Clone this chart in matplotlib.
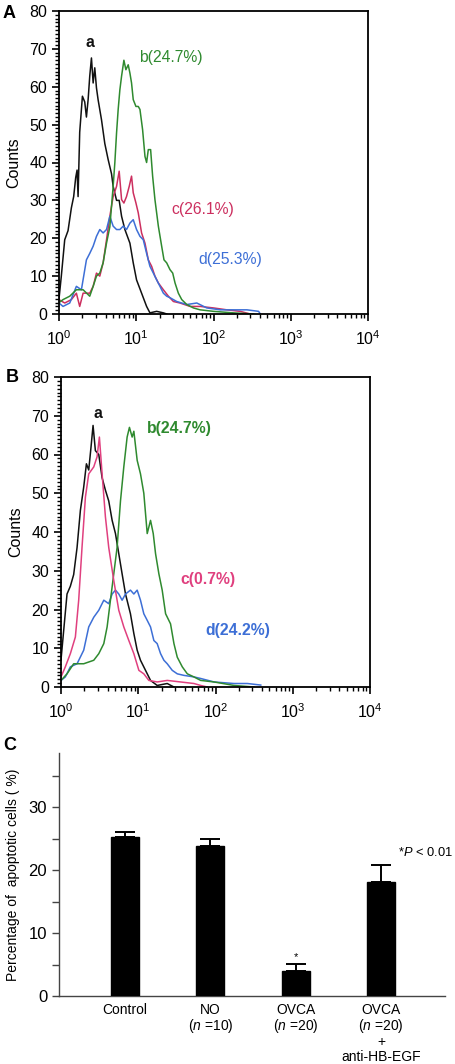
import numpy as np
import matplotlib
matplotlib.use("Agg")
import matplotlib.pyplot as plt
from matplotlib.ticker import MultipleLocator, LogLocator, NullFormatter, FixedLocator

plt.rcParams['font.family'] = ['Liberation Sans', 'DejaVu Sans']
plt.rcParams['mathtext.fontset'] = 'custom'
plt.rcParams['mathtext.rm'] = 'Liberation Sans'
plt.rcParams['mathtext.it'] = 'Liberation Sans:italic'
plt.rcParams['mathtext.bf'] = 'Liberation Sans:bold'

# ---------------- Panel A data (log10 fluorescence, counts) ----------------
a_black_log = [0.000, 0.030, 0.074, 0.117, 0.160, 0.190, 0.216, 0.234, 0.247, 0.268, 0.303, 0.333,
               0.355, 0.377, 0.398, 0.420, 0.442, 0.463, 0.485, 0.506, 0.550, 0.593, 0.636, 0.680,
               0.701, 0.745, 0.779, 0.810, 0.853, 0.918, 0.961, 1.004, 1.069, 1.134, 1.177, 1.264,
               1.351, 1.394]
a_black_cnt = [4, 10, 19.6, 22, 28, 31, 36, 38, 31, 48, 57.5, 56, 52, 56.6, 62.8, 67.6, 61, 65, 59.7,
               56.6, 51.3, 45, 40.8, 37, 33.7, 30, 30, 25.8, 22.3, 18.7, 13.5, 9, 5.5, 2, 0.3, 0.7,
               0.3, 0]

a_green_log = [0.000, 0.052, 0.139, 0.225, 0.312, 0.398, 0.442, 0.485, 0.528, 0.571, 0.615, 0.658,
               0.701, 0.723, 0.745, 0.766, 0.788, 0.810, 0.840, 0.866, 0.896, 0.918, 0.939, 0.961,
               0.996, 1.026, 1.048, 1.082, 1.113, 1.134, 1.156, 1.186, 1.212, 1.242, 1.286, 1.329,
               1.359, 1.394, 1.437, 1.472, 1.502, 1.545, 1.589, 1.654, 1.740, 1.827, 2.000, 2.260,
               2.519]
a_green_cnt = [3, 3.8, 4.7, 6.4, 6.4, 4.7, 7.3, 10, 10.8, 13.5, 18.7, 23, 33.7, 40, 47.8, 54, 59.2,
               62.8, 67, 64.5, 65.8, 63.6, 61, 56.6, 54.8, 54.8, 54, 48.7, 41.6, 40, 43.4, 43.4,
               36.4, 30.2, 23.2, 17.9, 14.3, 13.5, 11.7, 10.8, 8.2, 5.5, 3.8, 2.5, 1.6, 1.1, 0.7,
               0.3, 0]

a_red_log = [0.000, 0.074, 0.160, 0.225, 0.268, 0.312, 0.398, 0.442, 0.485, 0.528, 0.571, 0.615,
             0.658, 0.701, 0.745, 0.779, 0.810, 0.840, 0.874, 0.909, 0.939, 0.961, 0.996, 1.026,
             1.069, 1.113, 1.156, 1.199, 1.242, 1.286, 1.351, 1.416, 1.481, 1.567, 1.697, 1.827,
             2.000, 2.173, 2.346, 2.476]
a_red_cnt = [3.8, 2.9, 3.8, 5.5, 2, 5.5, 5.5, 7.3, 10.8, 10, 13.5, 19.6, 25.8, 31, 33.7, 37.7, 30.2,
             29.3, 31, 33.7, 36.4, 32, 29.3, 26.7, 21.4, 18.7, 14.3, 12.6, 10, 8.2, 6.4, 4.7, 3.3,
             2.9, 2, 2, 1.6, 1.1, 0.7, 0]

a_blue_log = [0.000, 0.052, 0.139, 0.225, 0.290, 0.355, 0.398, 0.442, 0.485, 0.528, 0.571, 0.615,
              0.658, 0.701, 0.745, 0.788, 0.831, 0.874, 0.918, 0.961, 1.004, 1.048, 1.091, 1.134,
              1.177, 1.221, 1.264, 1.307, 1.351, 1.394, 1.437, 1.524, 1.654, 1.784, 1.913, 2.087,
              2.260, 2.433, 2.584, 2.606]
a_blue_cnt = [2.9, 2, 2.9, 7.3, 6.4, 14.3, 16, 17.9, 20.5, 22.3, 21.4, 22.3, 25.8, 23.2, 22.3, 22.3,
              23.2, 22.3, 24, 24.9, 22.3, 20.5, 19.6, 16, 12.6, 10.8, 9, 7.3, 5.5, 4.7, 4.3, 3.3,
              2.5, 2.9, 1.6, 1.1, 1.1, 1.1, 0.7, 0]

# ---------------- Panel B data ----------------
b_black_log = [0.000, 0.078, 0.121, 0.164, 0.208, 0.251, 0.294, 0.329, 0.359, 0.389, 0.415, 0.445,
               0.489, 0.532, 0.575, 0.618, 0.662, 0.705, 0.748, 0.791, 0.835, 0.899, 0.943, 0.986,
               1.029, 1.094, 1.159, 1.245, 1.375, 1.462]
b_black_cnt = [7, 24, 26, 29, 36, 45.6, 51.6, 57.6, 56, 62, 67.5, 61, 60, 54, 50.8, 48, 43, 39.6,
               34.4, 29.2, 24, 18.9, 13.8, 9.5, 6.9, 4.3, 1.7, 0.4, 0.9, 0]

b_red_log = [0.000, 0.056, 0.121, 0.186, 0.229, 0.272, 0.316, 0.359, 0.424, 0.467, 0.497, 0.532,
             0.575, 0.618, 0.683, 0.748, 0.813, 0.878, 0.943, 1.008, 1.072, 1.137, 1.245, 1.375,
             1.548, 1.721, 1.808, 1.894]
b_red_cnt = [2.6, 5.2, 8.6, 12.9, 22.4, 36, 49, 55, 56.8, 59.4, 64.5, 55, 43.9, 36, 27.5, 19.8,
             15.5, 12, 8.6, 4.3, 3.4, 1.7, 1.3, 1.7, 1.3, 0.9, 0.4, 0]

b_green_log = [0.000, 0.078, 0.164, 0.294, 0.424, 0.489, 0.554, 0.597, 0.640, 0.683, 0.726, 0.770,
               0.813, 0.856, 0.886, 0.921, 0.943, 0.986, 1.029, 1.072, 1.116, 1.159, 1.194, 1.224,
               1.267, 1.310, 1.354, 1.418, 1.462, 1.505, 1.570, 1.635, 1.721, 1.808, 1.981, 2.240,
               2.499]
b_green_cnt = [1.7, 3.4, 6, 6, 6.9, 8.6, 11.2, 15.5, 22.4, 29.2, 36, 48, 56.8, 64.5, 67, 64.5, 66,
               58.5, 55, 50, 39.6, 43, 39.6, 34.4, 29.2, 25, 18.9, 16.3, 11.2, 7.7, 5.2, 3.4, 2.6,
               1.7, 1.3, 0.4, 0]

b_blue_log = [0.000, 0.056, 0.121, 0.208, 0.294, 0.359, 0.424, 0.489, 0.554, 0.618, 0.662, 0.705,
              0.748, 0.791, 0.835, 0.899, 0.943, 0.986, 1.029, 1.072, 1.116, 1.159, 1.202, 1.245,
              1.289, 1.332, 1.375, 1.440, 1.505, 1.591, 1.721, 1.808, 1.981, 2.240, 2.413, 2.586]
b_blue_cnt = [1.7, 2.6, 5.2, 6, 9.5, 15.5, 18, 19.8, 22.4, 21.5, 24, 25, 24, 22.4, 24, 25, 24, 25,
              22.4, 18.9, 17.2, 15.5, 12, 11.2, 8.6, 6.9, 6, 4.3, 3.4, 3, 2.6, 2.2, 1.3, 0.9, 0.9,
              0.5]

labels_A = ['a', 'b(24.7%)', 'c(26.1%)', 'd(25.3%)']
labels_B = ['a', 'b(24.7%)', 'c(0.7%)', 'd(24.2%)']

# ---------------- Panel C data ----------------
groups = ['Control', 'NO\n($\\it{n}$ =10)', 'OVCA\n($\\it{n}$ =20)',
          'OVCA\n($\\it{n}$ =20)\n+\nanti-HB-EGF']
pct = [25.2, 23.9, 4.0, 18.1]
err = [0.9, 1.1, 1.1, 2.7]

BLACK = '#111111'
GREEN = '#2f8a2f'
RED_A = '#cc2f5f'
RED_B = '#e0407f'
BLUE = '#3d6fd6'

fig = plt.figure(figsize=(4.56, 10.64), dpi=100)
W, H = 456.0, 1064.0


def axes_px(x0, x1, ytop, ybot):
    return fig.add_axes([x0 / W, 1 - ybot / H, (x1 - x0) / W, (ybot - ytop) / H])


def hist_panel(ax, curves, labels, label_pos, red, bold):
    for (lx, cnt, col) in curves:
        ax.plot(10 ** np.array(lx), cnt, color=col, lw=1.1)
    ax.set_xscale('log')
    ax.set_xlim(1, 1e4)
    ax.set_ylim(0, 80)
    ax.yaxis.set_major_locator(MultipleLocator(10))
    ax.yaxis.set_minor_locator(MultipleLocator(1))
    ax.xaxis.set_major_locator(LogLocator(base=10, numticks=10))
    ax.xaxis.set_minor_locator(LogLocator(base=10, subs=np.arange(2, 10), numticks=20))
    ax.xaxis.set_minor_formatter(NullFormatter())
    ax.tick_params(axis='both', which='major', direction='out', length=5, width=1.2,
                   labelsize=11.5, colors='black')
    ax.tick_params(axis='both', which='minor', direction='out', length=3, width=1.0)
    ax.tick_params(axis='x', pad=6)
    for s in ax.spines.values():
        s.set_linewidth(1.3)
    ax.set_ylabel('Counts', fontsize=11.5, labelpad=6)
    cols = [BLACK, GREEN, red, BLUE]
    for i, (t, (px, py)) in enumerate(zip(labels, label_pos)):
        fw = 'bold' if (bold or i == 0) else 'normal'
        ax.text(10 ** px, py, t, color=cols[i], fontsize=11.3, fontweight=fw,
                ha='center' if i == 0 else 'left', va='center')


# Panel A
axA = axes_px(59, 368, 11, 314)
hist_panel(axA,
           [(a_black_log, a_black_cnt, BLACK), (a_red_log, a_red_cnt, RED_A),
            (a_blue_log, a_blue_cnt, BLUE), (a_green_log, a_green_cnt, GREEN)],
           labels_A, [(0.40, 71.6), (1.03, 67.6), (1.46, 27.7), (1.80, 14.3)], RED_A, False)
fig.text(3 / W, 1 - 14 / H, 'A', fontsize=13, fontweight='bold', va='center', ha='left')

# Panel B
axB = axes_px(61, 370, 377, 687)
hist_panel(axB,
           [(b_black_log, b_black_cnt, BLACK), (b_blue_log, b_blue_cnt, BLUE),
            (b_green_log, b_green_cnt, GREEN), (b_red_log, b_red_cnt, RED_B)],
           labels_B, [(0.48, 70.5), (1.116, 66.7), (1.548, 27.7), (1.872, 14.6)], RED_B, True)
fig.text(6 / W, 1 - 377 / H, 'B', fontsize=13, fontweight='bold', va='center', ha='left')

# Panel C
axC = axes_px(59, 445, 753, 996)
xpos = np.arange(len(groups))
axC.bar(xpos, pct, width=0.33, color='black', edgecolor='black', zorder=3)
axC.errorbar(xpos, pct, yerr=[np.zeros(len(err)), err], fmt='none', ecolor='black',
             elinewidth=1.4, capsize=7.5, capthick=1.4, zorder=2)
axC.set_xlim(-0.775, 3.75)
axC.set_ylim(0, 38.6)
axC.yaxis.set_major_locator(FixedLocator([0, 5, 10, 15, 20, 25, 30, 35]))
axC.set_yticklabels(['0', '', '10', '', '20', '', '30', ''])
axC.set_xticks(xpos)
axC.set_xticklabels(groups, fontsize=10, linespacing=1.02, va='top')
axC.tick_params(axis='x', length=0, pad=5)
axC.tick_params(axis='y', direction='out', length=5, width=1.0, labelsize=12,
                color='#444444')
for s in ['top', 'right']:
    axC.spines[s].set_visible(False)
for s in ['left', 'bottom']:
    axC.spines[s].set_color('#444444')
    axC.spines[s].set_linewidth(1.0)
axC.set_ylabel('Percentage of  apoptotic cells ( %)', fontsize=10, labelpad=6)
axC.text(xpos[2], pct[2] + err[2] + 0.3, '*', fontsize=8, ha='center', va='bottom')
axC.text(3.2, 22.8, '*$\\it{P}$ < 0.01', fontsize=9.3, ha='left', va='center')
fig.text(3 / W, 1 - 746 / H, 'C', fontsize=13, fontweight='bold', va='center', ha='left')

fig.savefig('out.png', dpi=100)
